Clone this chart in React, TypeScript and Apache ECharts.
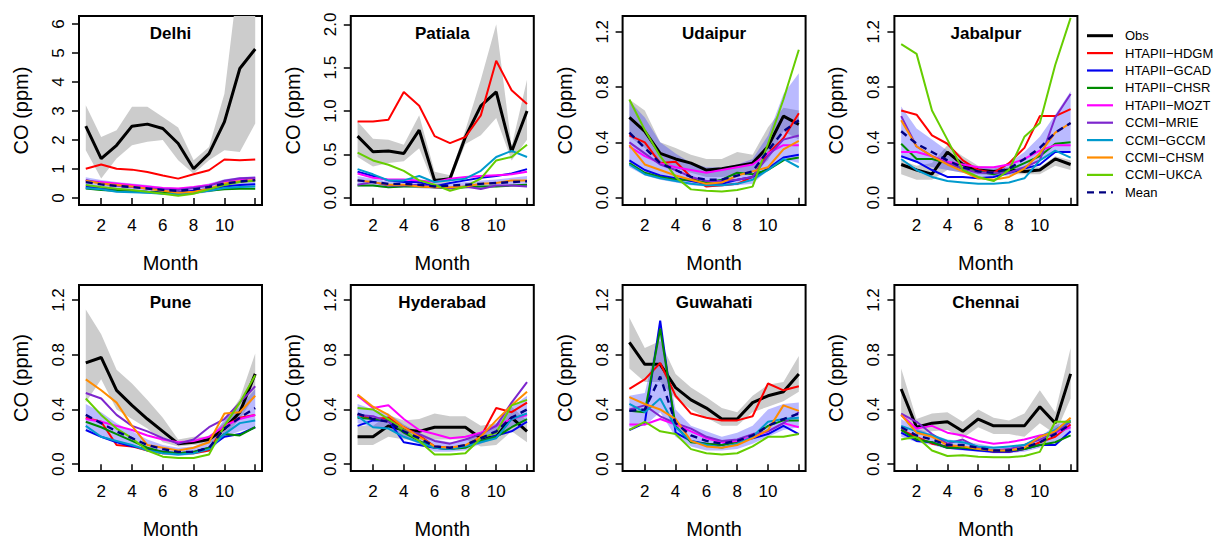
import React, { useEffect, useRef } from "react";
import * as echarts from "echarts";

const months = [1, 2, 3, 4, 5, 6, 7, 8, 9, 10, 11, 12];
const cities = ["Delhi", "Patiala", "Udaipur", "Jabalpur", "Pune", "Hyderabad", "Guwahati", "Chennai"];
const yTicks = [
  [0, 1, 2, 3, 4, 5, 6],
  [0, 0.5, 1, 1.5, 2],
  [0, 0.4, 0.8, 1.2],
  [0, 0.4, 0.8, 1.2],
  [0, 0.4, 0.8, 1.2],
  [0, 0.4, 0.8, 1.2],
  [0, 0.4, 0.8, 1.2],
  [0, 0.4, 0.8, 1.2],
];
const yDecimals = [0, 1, 1, 1, 1, 1, 1, 1];
const yMin = [-0.24, -0.084, -0.053, -0.053, -0.05, -0.05, -0.05, -0.05];
const yMax = [6.28, 2.096, 1.314, 1.314, 1.31, 1.31, 1.31, 1.31];
const xTicks = [2, 4, 6, 8, 10, 12];
const xLabels = [2, 4, 6, 8, 10];

const obs = [
  [2.48, 1.36, 1.82, 2.48, 2.55, 2.4, 1.88, 1.01, 1.53, 2.63, 4.47, 5.14],
  [0.71, 0.53, 0.54, 0.51, 0.78, 0.2, 0.22, 0.7, 1.06, 1.22, 0.53, 1.0],
  [0.58, 0.48, 0.32, 0.28, 0.25, 0.2, 0.21, 0.23, 0.25, 0.37, 0.59, 0.53],
  [0.24, 0.2, 0.17, 0.33, 0.24, 0.2, 0.19, 0.2, 0.19, 0.2, 0.28, 0.24],
  [0.74, 0.78, 0.54, 0.43, 0.33, 0.24, 0.15, 0.16, 0.18, 0.26, 0.38, 0.66],
  [0.2, 0.2, 0.28, 0.25, 0.24, 0.27, 0.27, 0.27, 0.19, 0.2, 0.34, 0.24],
  [0.89, 0.73, 0.73, 0.56, 0.47, 0.41, 0.33, 0.33, 0.45, 0.5, 0.53, 0.66],
  [0.55, 0.27, 0.3, 0.31, 0.24, 0.33, 0.28, 0.28, 0.28, 0.42, 0.3, 0.66],
];
const obsHi = [
  [3.2, 2.11, 2.34, 3.15, 3.15, 2.8, 2.43, 1.3, 1.76, 3.6, 8.0, 7.5],
  [0.88, 0.68, 0.67, 0.61, 0.95, 0.3, 0.26, 0.78, 1.36, 2.0, 0.59, 1.36],
  [0.71, 0.63, 0.4, 0.36, 0.31, 0.28, 0.28, 0.33, 0.31, 0.51, 0.65, 0.63],
  [0.27, 0.23, 0.25, 0.38, 0.3, 0.23, 0.22, 0.22, 0.22, 0.22, 0.3, 0.27],
  [1.13, 0.95, 0.69, 0.59, 0.47, 0.34, 0.18, 0.2, 0.2, 0.31, 0.48, 0.81],
  [0.28, 0.28, 0.36, 0.32, 0.33, 0.37, 0.35, 0.35, 0.28, 0.3, 0.42, 0.32],
  [1.07, 0.85, 0.9, 0.66, 0.56, 0.49, 0.41, 0.38, 0.5, 0.58, 0.6, 0.79],
  [0.7, 0.33, 0.37, 0.38, 0.31, 0.4, 0.34, 0.32, 0.37, 0.54, 0.38, 0.85],
];
const obsLo = [
  [1.65, 0.67, 1.36, 1.82, 1.94, 2.0, 1.3, 0.84, 1.3, 1.65, 1.59, 2.57],
  [0.47, 0.36, 0.4, 0.42, 0.57, 0.13, 0.18, 0.62, 0.72, 0.92, 0.43, 0.67],
  [0.44, 0.36, 0.25, 0.21, 0.18, 0.15, 0.15, 0.16, 0.18, 0.27, 0.48, 0.42],
  [0.17, 0.13, 0.13, 0.2, 0.18, 0.17, 0.16, 0.17, 0.17, 0.17, 0.23, 0.2],
  [0.45, 0.62, 0.4, 0.33, 0.26, 0.16, 0.13, 0.14, 0.15, 0.21, 0.33, 0.5],
  [0.14, 0.14, 0.2, 0.18, 0.18, 0.18, 0.18, 0.18, 0.13, 0.14, 0.24, 0.16],
  [0.7, 0.6, 0.6, 0.48, 0.4, 0.34, 0.28, 0.28, 0.38, 0.42, 0.46, 0.53],
  [0.35, 0.22, 0.24, 0.25, 0.19, 0.27, 0.22, 0.22, 0.2, 0.3, 0.22, 0.48],
];
const modHi = [
  [0.72, 0.62, 0.55, 0.5, 0.45, 0.38, 0.35, 0.4, 0.5, 0.65, 0.72, 0.75],
  [0.25, 0.22, 0.19, 0.19, 0.18, 0.16, 0.17, 0.18, 0.2, 0.21, 0.23, 0.25],
  [0.7, 0.58, 0.4, 0.32, 0.25, 0.22, 0.22, 0.24, 0.28, 0.45, 0.75, 0.9],
  [0.66, 0.5, 0.42, 0.34, 0.26, 0.22, 0.21, 0.25, 0.33, 0.44, 0.6, 0.77],
  [0.44, 0.38, 0.3, 0.24, 0.18, 0.14, 0.12, 0.13, 0.17, 0.33, 0.42, 0.55],
  [0.44, 0.4, 0.37, 0.29, 0.23, 0.18, 0.16, 0.18, 0.22, 0.3, 0.42, 0.5],
  [0.5, 0.52, 1.0, 0.4, 0.28, 0.24, 0.2, 0.23, 0.28, 0.4, 0.44, 0.45],
  [0.33, 0.26, 0.22, 0.18, 0.17, 0.15, 0.13, 0.13, 0.15, 0.2, 0.28, 0.34],
];
const modLo = [
  [0.3, 0.25, 0.2, 0.18, 0.16, 0.13, 0.1, 0.13, 0.2, 0.3, 0.35, 0.38],
  [0.13, 0.13, 0.11, 0.12, 0.11, 0.1, 0.1, 0.11, 0.11, 0.12, 0.13, 0.14],
  [0.22, 0.16, 0.13, 0.11, 0.09, 0.08, 0.08, 0.09, 0.1, 0.2, 0.28, 0.25],
  [0.3, 0.25, 0.22, 0.2, 0.18, 0.15, 0.15, 0.16, 0.2, 0.27, 0.34, 0.33],
  [0.26, 0.2, 0.17, 0.13, 0.1, 0.07, 0.06, 0.07, 0.09, 0.2, 0.24, 0.27],
  [0.3, 0.27, 0.26, 0.19, 0.15, 0.09, 0.09, 0.1, 0.15, 0.19, 0.27, 0.3],
  [0.27, 0.28, 0.38, 0.2, 0.13, 0.1, 0.1, 0.11, 0.15, 0.2, 0.25, 0.27],
  [0.2, 0.16, 0.14, 0.11, 0.1, 0.09, 0.08, 0.08, 0.09, 0.12, 0.16, 0.23],
];
const hdgm = [
  [1.01, 1.16, 1.01, 0.98, 0.9, 0.78, 0.67, 0.82, 0.96, 1.33, 1.3, 1.33],
  [0.88, 0.88, 0.9, 1.22, 1.06, 0.71, 0.63, 0.7, 0.95, 1.58, 1.24, 1.08],
  [0.45, 0.4, 0.25, 0.26, 0.15, 0.08, 0.09, 0.1, 0.15, 0.32, 0.43, 0.61],
  [0.63, 0.6, 0.45, 0.39, 0.27, 0.2, 0.18, 0.25, 0.36, 0.59, 0.59, 0.64],
  [0.34, 0.31, 0.14, 0.13, 0.1, 0.08, 0.08, 0.08, 0.1, 0.28, 0.34, 0.36],
  [0.36, 0.33, 0.34, 0.27, 0.21, 0.13, 0.12, 0.13, 0.2, 0.41, 0.38, 0.45],
  [0.55, 0.62, 0.74, 0.5, 0.37, 0.34, 0.32, 0.32, 0.35, 0.59, 0.54, 0.57],
  [0.25, 0.2, 0.15, 0.13, 0.12, 0.11, 0.09, 0.09, 0.11, 0.16, 0.2, 0.29],
];
const gcad = [
  [0.4, 0.33, 0.28, 0.25, 0.22, 0.2, 0.2, 0.25, 0.3, 0.4, 0.45, 0.48],
  [0.3, 0.25, 0.2, 0.18, 0.18, 0.13, 0.17, 0.2, 0.23, 0.25, 0.28, 0.33],
  [0.27, 0.2, 0.16, 0.14, 0.12, 0.1, 0.1, 0.13, 0.15, 0.21, 0.29, 0.31],
  [0.3, 0.26, 0.2, 0.15, 0.15, 0.14, 0.15, 0.18, 0.21, 0.24, 0.33, 0.33],
  [0.25, 0.2, 0.16, 0.13, 0.11, 0.09, 0.08, 0.09, 0.12, 0.2, 0.22, 0.27],
  [0.28, 0.32, 0.32, 0.16, 0.14, 0.12, 0.11, 0.13, 0.17, 0.21, 0.24, 0.31],
  [0.25, 0.3, 1.05, 0.23, 0.17, 0.15, 0.14, 0.17, 0.19, 0.22, 0.28, 0.22],
  [0.23, 0.17, 0.16, 0.12, 0.11, 0.1, 0.09, 0.09, 0.11, 0.14, 0.14, 0.24],
];
const chsr = [
  [0.33, 0.28, 0.25, 0.22, 0.2, 0.18, 0.16, 0.2, 0.25, 0.3, 0.32, 0.32],
  [0.14, 0.14, 0.12, 0.13, 0.13, 0.12, 0.11, 0.12, 0.13, 0.13, 0.14, 0.15],
  [0.25, 0.18, 0.15, 0.13, 0.13, 0.11, 0.13, 0.18, 0.17, 0.2, 0.27, 0.29],
  [0.39, 0.28, 0.28, 0.25, 0.21, 0.19, 0.17, 0.2, 0.25, 0.3, 0.39, 0.4],
  [0.31, 0.27, 0.22, 0.17, 0.12, 0.09, 0.08, 0.09, 0.12, 0.22, 0.21, 0.27],
  [0.34, 0.33, 0.32, 0.23, 0.17, 0.12, 0.11, 0.12, 0.17, 0.2, 0.27, 0.33],
  [0.39, 0.38, 0.99, 0.28, 0.16, 0.15, 0.14, 0.16, 0.2, 0.28, 0.32, 0.32],
  [0.25, 0.18, 0.16, 0.12, 0.12, 0.11, 0.1, 0.1, 0.11, 0.14, 0.16, 0.21],
];
const mozt = [
  [0.6, 0.55, 0.5, 0.45, 0.4, 0.35, 0.33, 0.38, 0.45, 0.58, 0.65, 0.68],
  [0.28, 0.23, 0.21, 0.21, 0.2, 0.18, 0.22, 0.24, 0.25, 0.26, 0.27, 0.3],
  [0.37, 0.3, 0.25, 0.22, 0.2, 0.18, 0.2, 0.22, 0.24, 0.32, 0.38, 0.38],
  [0.33, 0.33, 0.3, 0.26, 0.24, 0.22, 0.22, 0.24, 0.28, 0.34, 0.38, 0.38],
  [0.33, 0.31, 0.28, 0.25, 0.21, 0.18, 0.16, 0.17, 0.2, 0.28, 0.33, 0.36],
  [0.5, 0.41, 0.43, 0.33, 0.25, 0.22, 0.19, 0.2, 0.23, 0.28, 0.33, 0.36],
  [0.29, 0.29, 0.33, 0.29, 0.24, 0.19, 0.16, 0.17, 0.2, 0.24, 0.3, 0.27],
  [0.36, 0.26, 0.28, 0.23, 0.21, 0.17, 0.15, 0.16, 0.18, 0.21, 0.23, 0.27],
];
const mrie = [
  [0.62, 0.5, 0.42, 0.38, 0.33, 0.3, 0.28, 0.35, 0.42, 0.6, 0.68, 0.7],
  [0.15, 0.18, 0.14, 0.14, 0.15, 0.12, 0.11, 0.13, 0.1, 0.14, 0.14, 0.13],
  [0.4, 0.32, 0.24, 0.2, 0.15, 0.12, 0.12, 0.13, 0.15, 0.3, 0.42, 0.45],
  [0.59, 0.37, 0.3, 0.25, 0.21, 0.18, 0.18, 0.18, 0.22, 0.27, 0.58, 0.75],
  [0.52, 0.48, 0.36, 0.28, 0.24, 0.19, 0.15, 0.18, 0.27, 0.33, 0.45, 0.57],
  [0.36, 0.35, 0.31, 0.25, 0.22, 0.17, 0.15, 0.18, 0.22, 0.28, 0.45, 0.6],
  [0.4, 0.43, 0.35, 0.3, 0.26, 0.2, 0.17, 0.18, 0.22, 0.24, 0.3, 0.38],
  [0.37, 0.31, 0.22, 0.15, 0.18, 0.12, 0.1, 0.11, 0.14, 0.18, 0.23, 0.31],
];
const gccm = [
  [0.35, 0.3, 0.22, 0.2, 0.18, 0.15, 0.13, 0.18, 0.25, 0.35, 0.38, 0.4],
  [0.33, 0.27, 0.2, 0.2, 0.25, 0.18, 0.2, 0.22, 0.31, 0.47, 0.54, 0.47],
  [0.24, 0.17, 0.14, 0.12, 0.1, 0.09, 0.09, 0.1, 0.13, 0.2, 0.28, 0.22],
  [0.28, 0.2, 0.15, 0.12, 0.11, 0.1, 0.1, 0.11, 0.14, 0.27, 0.34, 0.29],
  [0.28, 0.2, 0.17, 0.14, 0.1, 0.08, 0.07, 0.08, 0.11, 0.22, 0.3, 0.32],
  [0.35, 0.27, 0.26, 0.2, 0.16, 0.12, 0.11, 0.13, 0.16, 0.19, 0.33, 0.37],
  [0.44, 0.38, 0.48, 0.27, 0.17, 0.14, 0.12, 0.15, 0.2, 0.31, 0.33, 0.34],
  [0.28, 0.24, 0.21, 0.17, 0.16, 0.13, 0.12, 0.13, 0.14, 0.2, 0.25, 0.32],
];
const chsm = [
  [0.6, 0.5, 0.45, 0.4, 0.32, 0.25, 0.18, 0.22, 0.32, 0.5, 0.58, 0.62],
  [0.2, 0.18, 0.15, 0.15, 0.13, 0.12, 0.12, 0.13, 0.16, 0.17, 0.2, 0.2],
  [0.38, 0.24, 0.2, 0.16, 0.13, 0.1, 0.11, 0.16, 0.19, 0.22, 0.35, 0.41],
  [0.56, 0.37, 0.3, 0.24, 0.19, 0.14, 0.13, 0.15, 0.21, 0.32, 0.47, 0.54],
  [0.62, 0.54, 0.45, 0.28, 0.14, 0.12, 0.1, 0.12, 0.16, 0.37, 0.38, 0.5],
  [0.51, 0.42, 0.36, 0.27, 0.2, 0.13, 0.12, 0.14, 0.2, 0.32, 0.43, 0.53],
  [0.49, 0.44, 0.4, 0.33, 0.17, 0.13, 0.12, 0.14, 0.19, 0.25, 0.43, 0.39],
  [0.36, 0.23, 0.2, 0.14, 0.13, 0.11, 0.1, 0.1, 0.12, 0.2, 0.24, 0.34],
];
const ukca = [
  [0.45, 0.38, 0.32, 0.28, 0.22, 0.15, 0.08, 0.15, 0.3, 0.45, 0.55, 0.6],
  [0.52, 0.43, 0.38, 0.31, 0.2, 0.15, 0.08, 0.13, 0.22, 0.43, 0.47, 0.61],
  [0.71, 0.49, 0.3, 0.15, 0.06, 0.05, 0.045, 0.055, 0.08, 0.39, 0.71, 1.07],
  [1.11, 1.04, 0.63, 0.42, 0.2, 0.15, 0.12, 0.2, 0.44, 0.54, 0.96, 1.3],
  [0.48, 0.36, 0.26, 0.19, 0.1, 0.055, 0.045, 0.045, 0.07, 0.28, 0.45, 0.65],
  [0.41, 0.4, 0.33, 0.25, 0.17, 0.07, 0.07, 0.08, 0.19, 0.23, 0.43, 0.47],
  [0.25, 0.31, 0.24, 0.22, 0.11, 0.08, 0.07, 0.08, 0.13, 0.2, 0.2, 0.22],
  [0.18, 0.2, 0.1, 0.06, 0.065, 0.055, 0.05, 0.05, 0.06, 0.09, 0.31, 0.31],
];
const mean = [
  [0.55, 0.47, 0.42, 0.38, 0.33, 0.28, 0.25, 0.3, 0.38, 0.5, 0.57, 0.62],
  [0.2, 0.18, 0.16, 0.16, 0.15, 0.13, 0.14, 0.15, 0.16, 0.17, 0.18, 0.19],
  [0.47, 0.36, 0.25, 0.2, 0.15, 0.13, 0.13, 0.16, 0.19, 0.34, 0.48, 0.56],
  [0.48, 0.39, 0.33, 0.27, 0.22, 0.19, 0.18, 0.21, 0.28, 0.36, 0.47, 0.54],
  [0.36, 0.3, 0.24, 0.19, 0.14, 0.11, 0.09, 0.09, 0.12, 0.26, 0.34, 0.41],
  [0.37, 0.33, 0.31, 0.24, 0.19, 0.13, 0.12, 0.14, 0.19, 0.24, 0.34, 0.4],
  [0.39, 0.4, 0.64, 0.3, 0.21, 0.17, 0.15, 0.17, 0.21, 0.28, 0.33, 0.37],
  [0.27, 0.21, 0.18, 0.14, 0.14, 0.12, 0.1, 0.1, 0.12, 0.16, 0.22, 0.29],
];

const modelNames = ["HTAPII\u2212HDGM", "HTAPII\u2212GCAD", "HTAPII\u2212CHSR", "HTAPII\u2212MOZT", "CCMI\u2212MRIE", "CCMI\u2212GCCM", "CCMI\u2212CHSM", "CCMI\u2212UKCA"];
const modelData = [hdgm, gcad, chsr, mozt, mrie, gccm, chsm, ukca];
const modelColors = ["#FF0000", "#0000EE", "#008B00", "#FF00FF", "#7D26CD", "#009ACD", "#FF8C00", "#66CD00"];

const FONT = "Liberation Sans, Arial, Helvetica, sans-serif";

type Pt = number[];
// Sutherland–Hodgman polygon clipping against an axis-aligned rectangle
function clipPolygon(pts: Pt[], x0: number, y0: number, x1: number, y1: number): Pt[] {
  const edges = [
    (p: Pt) => p[0] >= x0,
    (p: Pt) => p[0] <= x1,
    (p: Pt) => p[1] >= y0,
    (p: Pt) => p[1] <= y1,
  ];
  const inter = (a: Pt, b: Pt, e: number): Pt => {
    if (e < 2) {
      const xv = e === 0 ? x0 : x1;
      const t = (xv - a[0]) / (b[0] - a[0]);
      return [xv, a[1] + t * (b[1] - a[1])];
    }
    const yv = e === 2 ? y0 : y1;
    const t = (yv - a[1]) / (b[1] - a[1]);
    return [a[0] + t * (b[0] - a[0]), yv];
  };
  let out = pts;
  for (let e = 0; e < 4; e++) {
    const inp = out;
    out = [];
    if (!inp.length) break;
    const ins = edges[e];
    for (let k = 0; k < inp.length; k++) {
      const cur = inp[k];
      const prev = inp[(k + inp.length - 1) % inp.length];
      if (ins(cur)) {
        if (!ins(prev)) out.push(inter(prev, cur, e));
        out.push(cur);
      } else if (ins(prev)) {
        out.push(inter(prev, cur, e));
      }
    }
  }
  return out;
}

export default function App() {
  const ref = useRef<HTMLDivElement>(null);
  useEffect(() => {
    if (!ref.current) return;
    const chart = echarts.init(ref.current, undefined, { renderer: "svg" });

    const panelLeft = (c: number) => 79 + c * 271.8;
    const W = 183;
    const rowTop = [16, 285];
    const rowH = [189, 188];

    const grids: any[] = [];
    const xAxes: any[] = [];
    const yAxes: any[] = [];
    const series: any[] = [];
    const graphics: any[] = [];

    const bandSeries = (i: number, lo: number[][], hi: number[][], fill: string) => ({
      type: "custom",
      xAxisIndex: i,
      yAxisIndex: i,
      silent: true,
      data: [[months[0], lo[i][0]]],
      renderItem: (params: any, api: any) => {
        const upper = months.map((m, k) => api.coord([m, hi[i][k]]));
        const lower = months.map((m, k) => api.coord([m, lo[i][k]])).reverse();
        const cs = params.coordSys;
        const pts = clipPolygon([...upper, ...lower], cs.x, cs.y, cs.x + cs.width, cs.y + cs.height);
        return { type: "polygon", shape: { points: pts }, style: { fill, stroke: null } };
      },
    });

    cities.forEach((city, i) => {
      const r = Math.floor(i / 4);
      const c = i % 4;
      const left = panelLeft(c);
      grids.push({
        left, top: rowTop[r], width: W, height: rowH[r],
        show: true, borderColor: "#000", borderWidth: 2, backgroundColor: "transparent",
      });
      xAxes.push({
        type: "value", gridIndex: i, min: 0.56, max: 12.44,
        name: "Month", nameLocation: "middle", nameGap: 48,
        nameTextStyle: { fontFamily: FONT, fontSize: 20, color: "#000" },
        axisLine: { show: false },
        splitLine: { show: false },
        axisTick: { show: true, length: 7, customValues: xTicks, lineStyle: { color: "#000", width: 1.5 } },
        axisLabel: { customValues: xLabels, fontFamily: FONT, fontSize: 17, color: "#000", margin: 12 },
      });
      const dec = yDecimals[i];
      yAxes.push({
        type: "value", gridIndex: i, min: yMin[i], max: yMax[i],
        name: "CO (ppm)", nameLocation: "middle", nameGap: 48, nameRotate: 90,
        nameTextStyle: { fontFamily: FONT, fontSize: 20, color: "#000" },
        axisLine: { show: false },
        splitLine: { show: false },
        axisTick: { show: true, length: 7, customValues: yTicks[i], lineStyle: { color: "#000", width: 1.5 } },
        axisLabel: {
          customValues: yTicks[i], rotate: 90, fontFamily: FONT, fontSize: 17, color: "#000", margin: 12,
          formatter: (v: number) => v.toFixed(dec),
        },
      });

      series.push(bandSeries(i, obsLo, obsHi, "#CCCCCC"));
      series.push(bandSeries(i, modLo, modHi, "rgba(40,40,255,0.32)"));

      const base = { type: "line", xAxisIndex: i, yAxisIndex: i, symbol: "none", silent: true };
      series.push({ ...base, name: "Obs", data: months.map((m, k) => [m, obs[i][k]]), lineStyle: { color: "#000", width: 3 } });
      modelData.forEach((arr, j) => {
        series.push({ ...base, name: modelNames[j], data: months.map((m, k) => [m, arr[i][k]]), lineStyle: { color: modelColors[j], width: 2 } });
      });
      series.push({ ...base, name: "Mean", data: months.map((m, k) => [m, mean[i][k]]), lineStyle: { color: "#000080", width: 2.4, type: [7, 5] } });

      graphics.push({
        type: "text", x: left + W / 2, y: rowTop[r] + 17, z: 100,
        style: { text: city, fontFamily: FONT, fontSize: 17, fontWeight: "bold", fill: "#000", textAlign: "center", textVerticalAlign: "middle" },
      });
    });

    const legendNames = ["Obs", ...modelNames, "Mean"];
    const legendColors = ["#000", ...modelColors, "#000080"];
    legendNames.forEach((nm, k) => {
      const y = 35.7 + k * 17.4;
      graphics.push({
        type: "line", z: 100, shape: { x1: 1087, y1: y, x2: 1113, y2: y },
        style: { stroke: legendColors[k], lineWidth: k === 0 ? 3 : 2.2, lineDash: k === 9 ? [7, 5] : null },
      });
      graphics.push({
        type: "text", x: 1125, y, z: 100,
        style: { text: nm, fontFamily: FONT, fontSize: 13, fill: "#000", textAlign: "left", textVerticalAlign: "middle" },
      });
    });

    chart.setOption({
      animation: false,
      backgroundColor: "#fff",
      grid: grids,
      xAxis: xAxes,
      yAxis: yAxes,
      series,
      graphic: graphics,
    });
    return () => chart.dispose();
  }, []);

  return <div ref={ref} style={{ position: "fixed", left: 0, top: 0, width: 1218, height: 540 }} />;
}
